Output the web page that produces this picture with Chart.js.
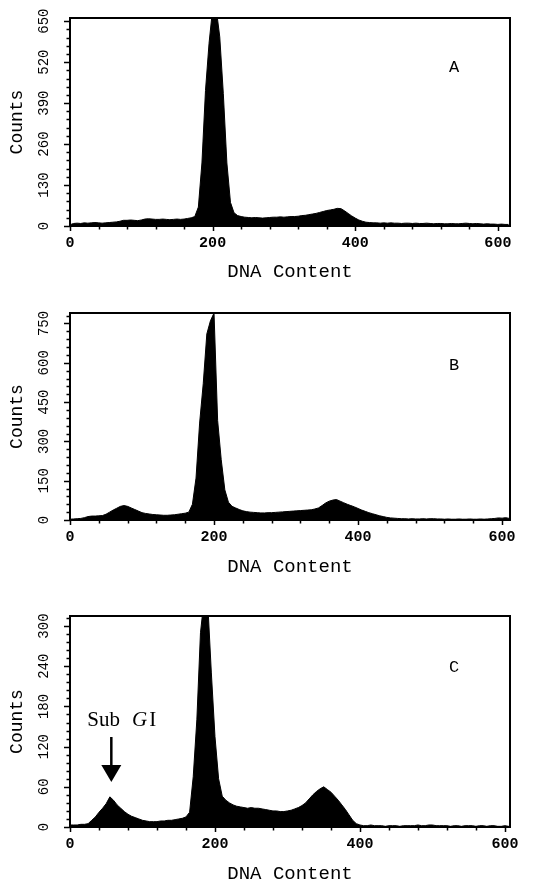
<!DOCTYPE html>
<html><head><meta charset="utf-8">
<script src="https://cdn.jsdelivr.net/npm/chart.js@4.4.0/dist/chart.umd.min.js"></script>
<style>
html,body{margin:0;padding:0;background:#fff;}
body{width:543px;height:883px;position:relative;overflow:hidden;}
.panel{position:absolute;left:0;width:543px;}
</style></head><body>
<div class="panel" style="top:0;height:295px"><canvas id="cA"></canvas></div>
<div class="panel" style="top:295px;height:298px"><canvas id="cB"></canvas></div>
<div class="panel" style="top:593px;height:290px"><canvas id="cC"></canvas></div>
<script>
// ---- data ----
const dnaChannels = [
  0,5,10,15,20,25,30,35,40,45,50,55,60,65,70,75,80,85,90,95,
  100,105,110,115,120,125,130,135,140,145,150,155,160,165,170,175,180,185,190,195,
  200,205,210,215,220,225,230,235,240,245,250,255,260,265,270,275,280,285,290,295,
  300,305,310,315,320,325,330,335,340,345,350,355,360,365,370,375,380,385,390,395,
  400,405,410,415,420,425,430,435,440,445,450,455,460,465,470,475,480,485,490,495,
  500,505,510,515,520,525,530,535,540,545,550,555,560,565,570,575,580,585,590,595,
  600,605,610,615];
const countsA = [
  4,8,9,8,10,9,10,11,10,9,10,11,12,13,15,18,18,19,18,17,
  19,22,23,22,21,21,22,21,20,21,22,21,22,24,26,30,60,200,430,580,
  690,690,600,420,200,75,42,33,30,28,27,26,27,26,25,26,27,28,28,29,
  28,29,30,30,31,33,34,36,38,40,43,46,49,51,53,56,55,48,40,32,
  25,19,15,12,11,10,10,9,10,9,10,9,9,8,9,9,8,9,8,8,
  9,8,7,8,8,7,7,8,7,7,8,9,8,7,8,7,6,7,6,6,
  5,6,5,5];
const countsB = [
  3,4,5,6,9,13,15,15,16,17,22,30,38,45,52,55,52,46,40,34,
  28,25,23,21,20,19,18,18,19,20,22,24,26,30,60,160,370,520,710,760,
  790,380,230,115,68,52,46,40,35,32,30,29,28,27,27,28,28,29,30,31,
  32,33,34,35,36,37,38,39,42,46,55,65,72,76,78,72,66,60,55,50,
  44,38,33,28,24,20,16,13,10,8,7,6,5,5,4,5,4,4,5,4,
  5,5,4,4,3,4,3,3,4,3,3,4,3,3,4,3,4,5,6,8,
  7,9,6,5];
const countsC = [
  3,3,3,4,4,5,10,15,22,28,35,45,40,33,28,23,19,16,14,12,
  10,9,8,8,8,9,9,10,10,11,12,13,15,22,75,160,290,340,335,230,
  135,72,46,40,36,33,31,30,29,28,29,28,28,27,26,25,24,24,23,23,
  24,25,27,29,32,36,42,48,53,57,60,56,52,46,40,33,26,18,10,5,
  3,2,2,3,2,2,2,1,2,2,2,1,2,2,2,2,3,2,2,3,
  3,2,2,2,2,1,2,2,1,2,2,2,1,2,2,1,2,2,1,1,
  2,1,1,2];
const xTickLabels = [0, 200, 400, 600];
const yTickLabelsA = [0, 130, 260, 390, 520, 650];
const yTickLabelsB = [0, 150, 300, 450, 600, 750];
const yTickLabelsC = [0, 60, 120, 180, 240, 300];
const panelLetters = ['A', 'B', 'C'];
const xTitle = 'DNA Content';
const yTitle = 'Counts';
const subG1Position = 57;

// ---- layout / style ----
const panels = [
  {id:'cA', letter:panelLetters[0], counts:countsA, yLabels:yTickLabelsA, yMax:660, yMinor:26, xMax:617, top:18, xH:69, titlePad:13.5, letterDy:49},
  {id:'cB', letter:panelLetters[1], counts:countsB, yLabels:yTickLabelsB, yMax:790, yMinor:30, xMax:611, top:18, xH:73, titlePad:16.5, letterDy:52},
  {id:'cC', letter:panelLetters[2], counts:countsC, yLabels:yTickLabelsC, yMax:315, yMinor:12, xMax:607, top:23, xH:56, titlePad:0, letterDy:51, annot:true}
];

const framePlugin = {
  id: 'frame',
  afterDraw(chart, args, o) {
    const {ctx, chartArea: a, scales: {x, y}} = chart;
    ctx.save();
    ctx.strokeStyle = '#000';
    ctx.fillStyle = '#000';
    // box
    ctx.lineWidth = 2;
    ctx.strokeRect(a.left, a.top, a.right - a.left, a.bottom - a.top);
    // y ticks (minor + major)
    ctx.lineWidth = 1.5;
    ctx.beginPath();
    const nY = Math.floor(y.max / o.yMinor + 1e-6);
    for (let i = 0; i <= nY; i++) {
      const v = i * o.yMinor;
      const py = Math.round(y.getPixelForValue(v)) + 0.5;
      const len = (i % 5 === 0) ? 6 : 3.5;
      ctx.moveTo(a.left - len, py); ctx.lineTo(a.left, py);
    }
    // x ticks every 40
    const nX = Math.floor(x.max / 40 + 1e-6);
    for (let i = 0; i <= nX; i++) {
      const v = i * 40;
      const px = Math.round(x.getPixelForValue(v)) + 0.5;
      const len = (v % 200 === 0) ? 5 : 3.5;
      ctx.moveTo(px, a.bottom); ctx.lineTo(px, a.bottom + len);
    }
    ctx.stroke();
    // rotated y labels
    ctx.font = '14px "Liberation Mono"';
    ctx.textAlign = 'center';
    ctx.textBaseline = 'middle';
    for (const v of o.yLabels) {
      const py = y.getPixelForValue(v);
      ctx.save();
      ctx.translate(a.left - 26, py);
      ctx.rotate(-Math.PI / 2);
      ctx.fillText(String(v), 0, 0);
      ctx.restore();
    }
    // panel letter
    ctx.font = '17px "Liberation Mono"';
    ctx.fillText(o.letter, a.left + 384, a.top + o.letterDy);
    // Sub G1 annotation
    if (o.annot) {
      const ax = x.getPixelForValue(subG1Position);
      const yTop = a.top + 121, yTip = a.top + 166;
      ctx.lineWidth = 2.5;
      ctx.beginPath(); ctx.moveTo(ax, yTop); ctx.lineTo(ax, yTip - 12); ctx.stroke();
      ctx.beginPath();
      ctx.moveTo(ax - 10, yTip - 17); ctx.lineTo(ax + 10, yTip - 17); ctx.lineTo(ax, yTip); ctx.closePath(); ctx.fill();
      ctx.textAlign = 'left';
      ctx.textBaseline = 'alphabetic';
      const ty = a.top + 110;
      let tx = ax - 24;
      ctx.font = '21px "Liberation Serif"';
      ctx.fillText('Sub', tx, ty); tx += ctx.measureText('Sub').width + 12;
      ctx.font = 'italic 21px "Liberation Serif"';
      ctx.fillText('G', tx, ty); tx += ctx.measureText('G').width + 2;
      ctx.font = '21px "Liberation Serif"';
      ctx.fillText('I', tx, ty);
    }
    ctx.restore();
  }
};

for (const p of panels) {
  new Chart(document.getElementById(p.id), {
    type: 'line',
    data: {
      datasets: [{
        data: dnaChannels.map((v, i) => ({x: v, y: p.counts[i]})),
        borderColor: '#000', backgroundColor: '#000', borderWidth: 1,
        fill: 'origin', pointRadius: 0, tension: 0
      }]
    },
    options: {
      responsive: true, maintainAspectRatio: false, animation: false,
      events: [],
      layout: {padding: {top: p.top, right: 33, left: 0, bottom: 0}},
      plugins: {
        legend: {display: false}, tooltip: {enabled: false},
        frame: {yLabels: p.yLabels, yMinor: p.yMinor, letter: p.letter, letterDy: p.letterDy, annot: !!p.annot}
      },
      scales: {
        x: {
          type: 'linear', min: 0, max: p.xMax,
          grid: {display: false, drawTicks: false}, border: {display: false},
          afterBuildTicks: s => { s.ticks = xTickLabels.map(v => ({value: v})); },
          ticks: {
            autoSkip: false, maxRotation: 0, minRotation: 0, padding: 8, color: '#000',
            font: {family: 'Liberation Mono', size: 15, weight: 'bold'},
            callback: v => String(v)
          },
          title: {display: true, text: xTitle, color: '#000',
            font: {family: 'Liberation Mono', size: 19, lineHeight: 1},
            padding: {top: 0, bottom: p.titlePad}},
          afterFit: s => { s.height = p.xH; }
        },
        y: {
          min: 0, max: p.yMax,
          grid: {display: false, drawTicks: false}, border: {display: false},
          ticks: {display: false},
          title: {display: true, text: yTitle, color: '#000',
            font: {family: 'Liberation Mono', size: 18, lineHeight: 1},
            padding: {top: 8, bottom: 0}},
          afterFit: s => { s.width = 70; }
        }
      }
    },
    plugins: [framePlugin]
  });
}
</script>
</body></html>
